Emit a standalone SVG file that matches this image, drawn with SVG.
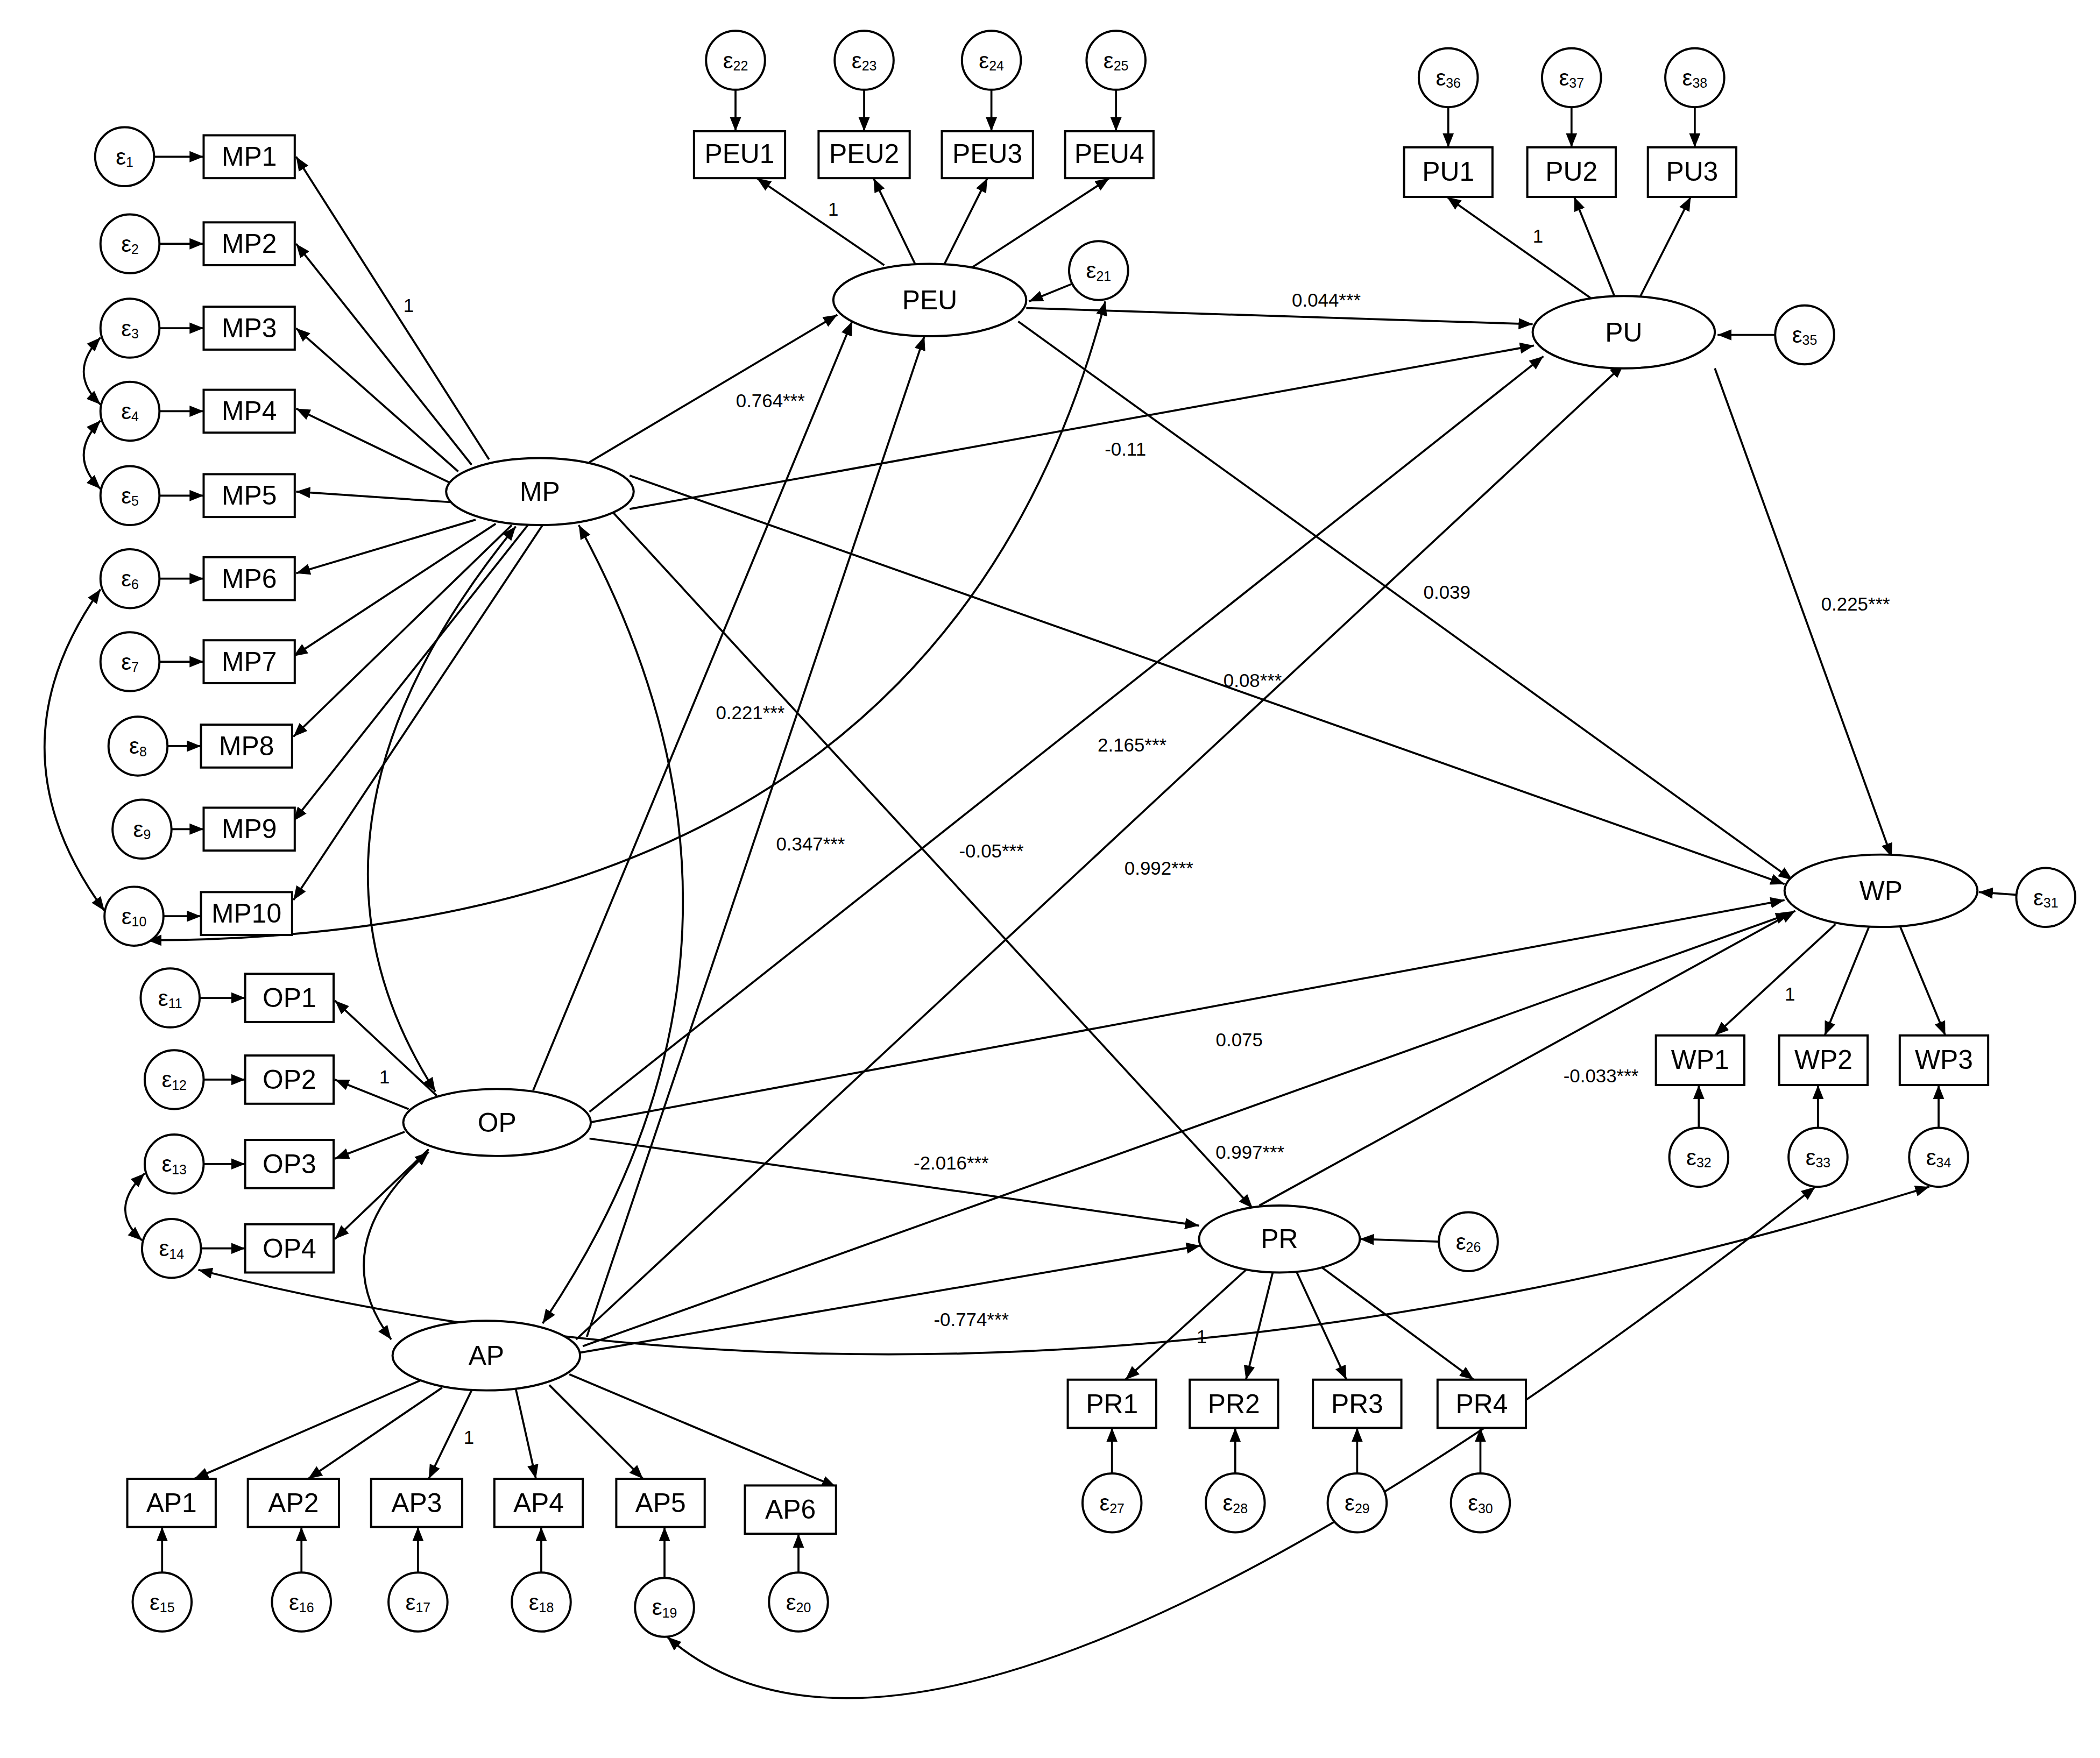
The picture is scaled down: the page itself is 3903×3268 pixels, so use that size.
<svg xmlns="http://www.w3.org/2000/svg" width="3903" height="3268" viewBox="0 0 3903 3268">
<defs>
<marker id="a" viewBox="0 0 10 10" refX="10" refY="5" markerWidth="7" markerHeight="7" orient="auto-start-reverse"><path d="M0,1 L10,5 L0,9 z" fill="#000"/></marker>
<style>
.n rect,.n ellipse,.n circle{fill:#fff;stroke:#000;stroke-width:1.6}
.n text{font-family:"Liberation Sans",Arial,sans-serif;font-size:20px;text-anchor:middle;dominant-baseline:central}
.e text{font-size:17px}
.e tspan{font-size:10px}
#edges path,#edges line{fill:none;stroke:#000;stroke-width:1.5;marker-end:url(#a)}
#edges .b{marker-start:url(#a)}
.l{font-family:"Liberation Sans",Arial,sans-serif;font-size:14px;text-anchor:middle}
</style>
</defs>
<rect width="3903" height="3268" fill="#fff"/>
<g transform="scale(2.49)">
<g id="edges">
<!-- MP loadings -->
<line x1="365" y1="343" x2="221" y2="117"/>
<line x1="352" y1="347" x2="221" y2="182"/>
<line x1="342" y1="352" x2="221" y2="245"/>
<line x1="335" y1="360" x2="221" y2="305"/>
<line x1="338" y1="375" x2="221" y2="367"/>
<line x1="355" y1="388" x2="221" y2="428"/>
<line x1="370" y1="391" x2="219" y2="490"/>
<line x1="382" y1="392" x2="219" y2="550"/>
<line x1="394" y1="392" x2="219" y2="613"/>
<line x1="405" y1="392" x2="219" y2="672"/>
<!-- error arrows MP -->
<line x1="115" y1="117" x2="152" y2="117"/>
<line x1="119" y1="182" x2="152" y2="182"/>
<line x1="119" y1="245" x2="152" y2="245"/>
<line x1="119" y1="307" x2="152" y2="307"/>
<line x1="119" y1="370" x2="152" y2="370"/>
<line x1="119" y1="432" x2="152" y2="432"/>
<line x1="119" y1="494" x2="152" y2="494"/>
<line x1="125" y1="557" x2="150" y2="557"/>
<line x1="128" y1="619" x2="152" y2="619"/>
<line x1="122" y1="684" x2="150" y2="684"/>
<!-- covariances errors -->
<path class="b" d="M75,252 Q50,278 75,302"/>
<path class="b" d="M75,314 Q50,340 75,365"/>
<path class="b" d="M75,440 Q-10,560 78,680"/>
<path class="b" d="M108,876 Q80,903 106,926"/>
<!-- PEU -->
<line x1="660" y1="198" x2="565" y2="133"/>
<line x1="683" y1="197" x2="652" y2="133"/>
<line x1="705" y1="197" x2="737" y2="133"/>
<line x1="725" y1="200" x2="828" y2="133"/>
<line x1="549" y1="67" x2="549" y2="98"/>
<line x1="645" y1="67" x2="645" y2="98"/>
<line x1="740" y1="67" x2="740" y2="98"/>
<line x1="833" y1="67" x2="833" y2="98"/>
<line x1="800" y1="212" x2="768" y2="225"/>
<!-- PU -->
<line x1="1188" y1="223" x2="1080" y2="147"/>
<line x1="1205" y1="221" x2="1175" y2="147"/>
<line x1="1224" y1="222" x2="1262" y2="147"/>
<line x1="1081" y1="80" x2="1081" y2="110"/>
<line x1="1173" y1="80" x2="1173" y2="110"/>
<line x1="1265" y1="80" x2="1265" y2="110"/>
<line x1="1325" y1="250" x2="1282" y2="250"/>
<!-- WP -->
<line x1="1370" y1="690" x2="1280" y2="773"/>
<line x1="1395" y1="692" x2="1362" y2="773"/>
<line x1="1418" y1="691" x2="1452" y2="773"/>
<line x1="1505" y1="668" x2="1477" y2="666"/>
<line x1="1268" y1="842" x2="1268" y2="810"/>
<line x1="1357" y1="842" x2="1357" y2="810"/>
<line x1="1447" y1="842" x2="1447" y2="810"/>
<!-- structural -->
<line x1="440" y1="345" x2="625" y2="235"/>
<line x1="470" y1="380" x2="1145" y2="258"/>
<line x1="470" y1="355" x2="1332" y2="660"/>
<line x1="458" y1="383" x2="935" y2="902"/>
<line x1="766" y1="230" x2="1144" y2="242"/>
<line x1="760" y1="240" x2="1338" y2="657"/>
<line x1="1280" y1="275" x2="1412" y2="640"/>
<line x1="398" y1="814" x2="636" y2="240"/>
<line x1="438" y1="998" x2="690" y2="251"/>
<line x1="440" y1="830" x2="1152" y2="266"/>
<line x1="430" y1="1000" x2="1212" y2="272"/>
<line x1="440" y1="838" x2="1332" y2="672"/>
<line x1="440" y1="850" x2="895" y2="915"/>
<line x1="432" y1="1010" x2="896" y2="930"/>
<line x1="435" y1="1005" x2="1336" y2="682"/>
<line x1="940" y1="900" x2="1340" y2="680"/>
<!-- latent covariances -->
<path class="b" d="M432,392 Q600,700 405,988"/>
<path class="b" d="M385,393 Q200,620 325,815"/>
<path class="b" d="M320,860 Q240,930 292,1000"/>
<path class="b" d="M110,702 Q700,700 825,225"/>
<path class="b" d="M148,948 Q750,1100 1440,886"/>
<path class="b" d="M498,1222 Q700,1400 1355,886"/>
<!-- OP -->
<line x1="326" y1="818" x2="250" y2="747"/>
<line x1="305" y1="828" x2="250" y2="806"/>
<line x1="302" y1="845" x2="250" y2="865"/>
<line x1="320" y1="858" x2="250" y2="925"/>
<line x1="149" y1="745" x2="183" y2="745"/>
<line x1="152" y1="806" x2="183" y2="806"/>
<line x1="152" y1="869" x2="183" y2="869"/>
<line x1="150" y1="932" x2="183" y2="932"/>
<!-- AP -->
<line x1="315" y1="1030" x2="145" y2="1104"/>
<line x1="330" y1="1036" x2="230" y2="1104"/>
<line x1="352" y1="1038" x2="320" y2="1104"/>
<line x1="385" y1="1037" x2="400" y2="1104"/>
<line x1="410" y1="1034" x2="480" y2="1104"/>
<line x1="425" y1="1026" x2="624" y2="1110"/>
<line x1="121" y1="1174" x2="121" y2="1140"/>
<line x1="225" y1="1174" x2="225" y2="1140"/>
<line x1="312" y1="1174" x2="312" y2="1140"/>
<line x1="404" y1="1174" x2="404" y2="1140"/>
<line x1="496" y1="1178" x2="496" y2="1140"/>
<line x1="596" y1="1174" x2="596" y2="1145"/>
<!-- PR -->
<line x1="930" y1="948" x2="840" y2="1030"/>
<line x1="950" y1="950" x2="930" y2="1030"/>
<line x1="968" y1="950" x2="1005" y2="1030"/>
<line x1="985" y1="945" x2="1100" y2="1030"/>
<line x1="1074" y1="927" x2="1015" y2="925"/>
<line x1="830" y1="1100" x2="830" y2="1066"/>
<line x1="922" y1="1100" x2="922" y2="1066"/>
<line x1="1013" y1="1100" x2="1013" y2="1066"/>
<line x1="1105" y1="1100" x2="1105" y2="1066"/>
</g>
<g id="labels">
<text class="l" x="305" y="233">1</text>
<text class="l" x="622" y="161">1</text>
<text class="l" x="1148" y="181">1</text>
<text class="l" x="1336" y="747">1</text>
<text class="l" x="287" y="809">1</text>
<text class="l" x="350" y="1078">1</text>
<text class="l" x="897" y="1003">1</text>
<text class="l" x="575" y="304">0.764***</text>
<text class="l" x="840" y="340">-0.11</text>
<text class="l" x="990" y="229">0.044***</text>
<text class="l" x="1080" y="447">0.039</text>
<text class="l" x="1385" y="456">0.225***</text>
<text class="l" x="935" y="513">0.08***</text>
<text class="l" x="560" y="537">0.221***</text>
<text class="l" x="845" y="561">2.165***</text>
<text class="l" x="605" y="635">0.347***</text>
<text class="l" x="740" y="640">-0.05***</text>
<text class="l" x="865" y="653">0.992***</text>
<text class="l" x="925" y="781">0.075</text>
<text class="l" x="1195" y="808">-0.033***</text>
<text class="l" x="933" y="865">0.997***</text>
<text class="l" x="710" y="873">-2.016***</text>
<text class="l" x="725" y="990">-0.774***</text>
</g>
<g id="MP" class="n"><ellipse cx="403" cy="367" rx="70" ry="25"/><text x="403" y="367">MP</text></g>
<g id="PEU" class="n"><ellipse cx="694" cy="224" rx="72" ry="27"/><text x="694" y="224">PEU</text></g>
<g id="PU" class="n"><ellipse cx="1212" cy="248" rx="68" ry="27"/><text x="1212" y="248">PU</text></g>
<g id="WP" class="n"><ellipse cx="1404" cy="665" rx="72" ry="27"/><text x="1404" y="665">WP</text></g>
<g id="OP" class="n"><ellipse cx="371" cy="838" rx="70" ry="25"/><text x="371" y="838">OP</text></g>
<g id="AP" class="n"><ellipse cx="363" cy="1012" rx="70" ry="26"/><text x="363" y="1012">AP</text></g>
<g id="PR" class="n"><ellipse cx="955" cy="925" rx="60" ry="25"/><text x="955" y="925">PR</text></g>
<g id="MPboxes" class="n">
<rect x="152" y="101" width="68" height="32"/><text x="186" y="117">MP1</text>
<rect x="152" y="166" width="68" height="32"/><text x="186" y="182">MP2</text>
<rect x="152" y="229" width="68" height="32"/><text x="186" y="245">MP3</text>
<rect x="152" y="291" width="68" height="32"/><text x="186" y="307">MP4</text>
<rect x="152" y="354" width="68" height="32"/><text x="186" y="370">MP5</text>
<rect x="152" y="416" width="68" height="32"/><text x="186" y="432">MP6</text>
<rect x="152" y="478" width="68" height="32"/><text x="186" y="494">MP7</text>
<rect x="150" y="541" width="68" height="32"/><text x="184" y="557">MP8</text>
<rect x="152" y="603" width="68" height="32"/><text x="186" y="619">MP9</text>
<rect x="150" y="666" width="68" height="32"/><text x="184" y="682">MP10</text>
</g>
<g id="PEUboxes" class="n">
<rect x="518" y="98" width="68" height="35"/><text x="552" y="115">PEU1</text>
<rect x="611" y="98" width="68" height="35"/><text x="645" y="115">PEU2</text>
<rect x="703" y="98" width="68" height="35"/><text x="737" y="115">PEU3</text>
<rect x="795" y="98" width="66" height="35"/><text x="828" y="115">PEU4</text>
</g>
<g id="PUboxes" class="n">
<rect x="1048" y="110" width="66" height="37"/><text x="1081" y="128">PU1</text>
<rect x="1140" y="110" width="66" height="37"/><text x="1173" y="128">PU2</text>
<rect x="1230" y="110" width="66" height="37"/><text x="1263" y="128">PU3</text>
</g>
<g id="WPboxes" class="n">
<rect x="1236" y="773" width="66" height="37"/><text x="1269" y="791">WP1</text>
<rect x="1328" y="773" width="66" height="37"/><text x="1361" y="791">WP2</text>
<rect x="1418" y="773" width="66" height="37"/><text x="1451" y="791">WP3</text>
</g>
<g id="OPboxes" class="n">
<rect x="183" y="727" width="66" height="36"/><text x="216" y="745">OP1</text>
<rect x="183" y="788" width="66" height="36"/><text x="216" y="806">OP2</text>
<rect x="183" y="851" width="66" height="36"/><text x="216" y="869">OP3</text>
<rect x="183" y="914" width="66" height="36"/><text x="216" y="932">OP4</text>
</g>
<g id="APboxes" class="n">
<rect x="95" y="1104" width="66" height="36"/><text x="128" y="1122">AP1</text>
<rect x="185" y="1104" width="68" height="36"/><text x="219" y="1122">AP2</text>
<rect x="277" y="1104" width="68" height="36"/><text x="311" y="1122">AP3</text>
<rect x="369" y="1104" width="66" height="36"/><text x="402" y="1122">AP4</text>
<rect x="460" y="1104" width="66" height="36"/><text x="493" y="1122">AP5</text>
<rect x="556" y="1109" width="68" height="36"/><text x="590" y="1127">AP6</text>
</g>
<g id="PRboxes" class="n">
<rect x="797" y="1030" width="66" height="36"/><text x="830" y="1048">PR1</text>
<rect x="888" y="1030" width="66" height="36"/><text x="921" y="1048">PR2</text>
<rect x="980" y="1030" width="66" height="36"/><text x="1013" y="1048">PR3</text>
<rect x="1073" y="1030" width="66" height="36"/><text x="1106" y="1048">PR4</text>
</g>
<g id="errors" class="n e">
<circle cx="93" cy="117" r="22"/><text x="93" y="117">ε<tspan dy="4">1</tspan></text>
<circle cx="97" cy="182" r="22"/><text x="97" y="182">ε<tspan dy="4">2</tspan></text>
<circle cx="97" cy="245" r="22"/><text x="97" y="245">ε<tspan dy="4">3</tspan></text>
<circle cx="97" cy="307" r="22"/><text x="97" y="307">ε<tspan dy="4">4</tspan></text>
<circle cx="97" cy="370" r="22"/><text x="97" y="370">ε<tspan dy="4">5</tspan></text>
<circle cx="97" cy="432" r="22"/><text x="97" y="432">ε<tspan dy="4">6</tspan></text>
<circle cx="97" cy="494" r="22"/><text x="97" y="494">ε<tspan dy="4">7</tspan></text>
<circle cx="103" cy="557" r="22"/><text x="103" y="557">ε<tspan dy="4">8</tspan></text>
<circle cx="106" cy="619" r="22"/><text x="106" y="619">ε<tspan dy="4">9</tspan></text>
<circle cx="100" cy="684" r="22"/><text x="100" y="684">ε<tspan dy="4">10</tspan></text>
<circle cx="127" cy="745" r="22"/><text x="127" y="745">ε<tspan dy="4">11</tspan></text>
<circle cx="130" cy="806" r="22"/><text x="130" y="806">ε<tspan dy="4">12</tspan></text>
<circle cx="130" cy="869" r="22"/><text x="130" y="869">ε<tspan dy="4">13</tspan></text>
<circle cx="128" cy="932" r="22"/><text x="128" y="932">ε<tspan dy="4">14</tspan></text>
<circle cx="121" cy="1196" r="22"/><text x="121" y="1196">ε<tspan dy="4">15</tspan></text>
<circle cx="225" cy="1196" r="22"/><text x="225" y="1196">ε<tspan dy="4">16</tspan></text>
<circle cx="312" cy="1196" r="22"/><text x="312" y="1196">ε<tspan dy="4">17</tspan></text>
<circle cx="404" cy="1196" r="22"/><text x="404" y="1196">ε<tspan dy="4">18</tspan></text>
<circle cx="496" cy="1200" r="22"/><text x="496" y="1200">ε<tspan dy="4">19</tspan></text>
<circle cx="596" cy="1196" r="22"/><text x="596" y="1196">ε<tspan dy="4">20</tspan></text>
<circle cx="820" cy="202" r="22"/><text x="820" y="202">ε<tspan dy="4">21</tspan></text>
<circle cx="549" cy="45" r="22"/><text x="549" y="45">ε<tspan dy="4">22</tspan></text>
<circle cx="645" cy="45" r="22"/><text x="645" y="45">ε<tspan dy="4">23</tspan></text>
<circle cx="740" cy="45" r="22"/><text x="740" y="45">ε<tspan dy="4">24</tspan></text>
<circle cx="833" cy="45" r="22"/><text x="833" y="45">ε<tspan dy="4">25</tspan></text>
<circle cx="1096" cy="927" r="22"/><text x="1096" y="927">ε<tspan dy="4">26</tspan></text>
<circle cx="830" cy="1122" r="22"/><text x="830" y="1122">ε<tspan dy="4">27</tspan></text>
<circle cx="922" cy="1122" r="22"/><text x="922" y="1122">ε<tspan dy="4">28</tspan></text>
<circle cx="1013" cy="1122" r="22"/><text x="1013" y="1122">ε<tspan dy="4">29</tspan></text>
<circle cx="1105" cy="1122" r="22"/><text x="1105" y="1122">ε<tspan dy="4">30</tspan></text>
<circle cx="1527" cy="670" r="22"/><text x="1527" y="670">ε<tspan dy="4">31</tspan></text>
<circle cx="1268" cy="864" r="22"/><text x="1268" y="864">ε<tspan dy="4">32</tspan></text>
<circle cx="1357" cy="864" r="22"/><text x="1357" y="864">ε<tspan dy="4">33</tspan></text>
<circle cx="1447" cy="864" r="22"/><text x="1447" y="864">ε<tspan dy="4">34</tspan></text>
<circle cx="1347" cy="250" r="22"/><text x="1347" y="250">ε<tspan dy="4">35</tspan></text>
<circle cx="1081" cy="58" r="22"/><text x="1081" y="58">ε<tspan dy="4">36</tspan></text>
<circle cx="1173" cy="58" r="22"/><text x="1173" y="58">ε<tspan dy="4">37</tspan></text>
<circle cx="1265" cy="58" r="22"/><text x="1265" y="58">ε<tspan dy="4">38</tspan></text>
</g>
</g>
</svg>
